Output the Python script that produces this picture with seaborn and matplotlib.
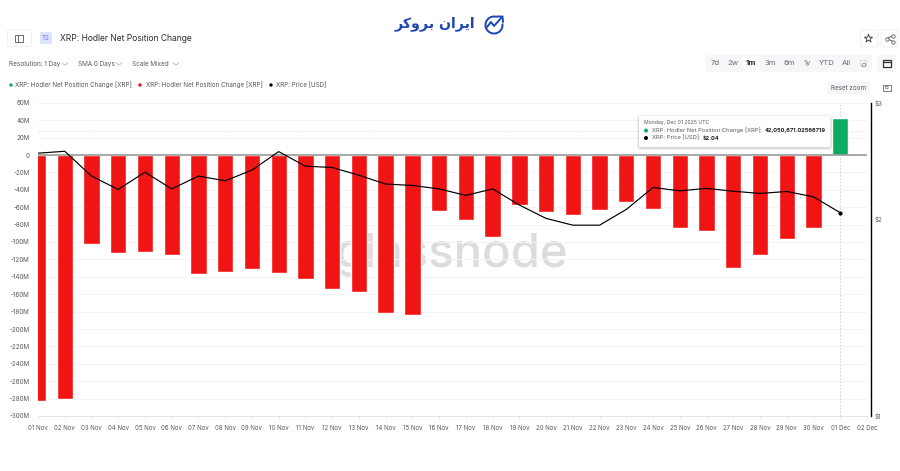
import numpy as np
import pandas as pd
import matplotlib
matplotlib.use('Agg')
import matplotlib.pyplot as plt
import seaborn as sns
from matplotlib.patches import FancyBboxPatch, Circle, Rectangle, Arc

# values, one per day from 01 Nov to 01 Dec
date_labels = [f'{d:02d} Nov' for d in range(1, 31)] + ['01 Dec', '02 Dec']
hodler_change = [-283, -280.5, -102.7, -113, -111, -115.3, -136.4, -134, -131.4, -136,
                 -142.7, -154.4, -157, -181.6, -183.9, -64, -74.3, -94.3, -57.5, -65.9,
                 -69, -63.6, -54, -62, -84.3, -87.4, -129.5, -114.6, -97, -83.9, 42.05]
price_usd = [2.514, 2.531, 2.320, 2.214, 2.352, 2.218, 2.320, 2.282, 2.369, 2.528,
             2.402, 2.391, 2.327, 2.256, 2.245, 2.218, 2.168, 2.218, 2.096, 2.000,
             1.953, 1.953, 2.064, 2.229, 2.203, 2.222, 2.200, 2.183, 2.198, 2.157, 2.04]
y_ticks = list(range(60, -301, -20))
y_labels = ['0' if v == 0 else f'{v}M' for v in y_ticks]
price_ticks = [1, 2, 3]
price_labels = ['$1', '$2', '$3']
range_buttons = ['7d', '2w', '1m', '3m', '6m', '1y', 'YTD', 'All']

GREEN = '#0bab64'
RED = '#f01414'
TEXT = '#555a60'

sns.set_theme(style='white')
plt.rcParams['font.family'] = ['Inter', 'DejaVu Sans']

W, H = 900, 471
fig = plt.figure(figsize=(W / 100, H / 100), dpi=100)

# plot area in pixels
left, right, top, bottom = 38.0, 867.0, 102.8, 416.0
ax = fig.add_axes([left / W, 1 - bottom / H, (right - left) / W, (bottom - top) / H])

df = pd.DataFrame({'day': np.arange(len(hodler_change)), 'change': hodler_change, 'price': price_usd})
df['side'] = np.where(df['change'] > 0, 'up', 'down')

sns.barplot(data=df, x='day', y='change', hue='side', palette={'up': GREEN, 'down': RED},
            native_scale=True, width=0.61, dodge=False, saturation=1, legend=False, ax=ax, zorder=2)
ax.set_xlim(0, 31)
ax.set_ylim(-300, 60)
ax.set_xlabel('')
ax.set_ylabel('')
ax.set_axisbelow(True)
ax.set_yticks(y_ticks)
ax.set_yticklabels(y_labels, fontsize=4.5, color=TEXT)
ax.set_xticks(np.arange(len(date_labels)))
ax.set_xticklabels(date_labels, fontsize=4.4, color=TEXT)
ax.tick_params(axis='y', length=0, pad=6)
ax.tick_params(axis='x', length=2.5, width=0.5, color='#dddddd', pad=4, bottom=True)
ax.grid(axis='y', color='#f3f4f5', lw=0.7)
for name in ['top', 'left', 'right']:
    ax.spines[name].set_visible(False)
ax.spines['bottom'].set_color('#e2e3e5')
ax.spines['bottom'].set_linewidth(0.7)
ax.axhline(0, color='#9a9a9a', lw=1.2, zorder=3)
ax.axhline(27.6, color='#e3e6ea', lw=0.7, ls=(0, (2, 2)), zorder=1)
ax.axvline(30, color='#c9cbce', lw=0.6, ls=(0, (2, 2)), zorder=1)
ax.text(452, H - 255, 'glassnode', transform=None, fontsize=34, color='#dcdcdc', weight='medium',
        ha='center', va='center', zorder=0.5)

ax2 = ax.twinx()
sns.lineplot(data=df, x='day', y='price', color='black', lw=0.85, ax=ax2, zorder=4)
sns.scatterplot(data=df.tail(1), x='day', y='price', color='black', s=9, ax=ax2, zorder=5, linewidth=0)
ax2.set_yscale('log')
ax2.set_ylim(1, 3)
ax2.set_xlim(0, 31)
ax2.set_xlabel('')
ax2.set_ylabel('')
ax2.set_yticks(price_ticks)
ax2.set_yticklabels(price_labels)
ax2.minorticks_off()
ax2.tick_params(axis='y', length=0, pad=3, labelsize=4.5, labelcolor=TEXT)
for name in ['top', 'left', 'bottom']:
    ax2.spines[name].set_visible(False)
ax2.spines['right'].set_position(('outward', 2.8))
ax2.spines['right'].set_color('black')
ax2.spines['right'].set_linewidth(1)

# page furniture on an overlay in pixel coordinates
ui = fig.add_axes([0, 0, 1, 1], zorder=10)
ui.set_xlim(0, W)
ui.set_ylim(H, 0)
ui.axis('off')


def box(x0, y0, x1, y1, face='white', edge='none', lw=0.6, z=1, radius=1.5):
    patch = FancyBboxPatch((x0, y0), x1 - x0, y1 - y0, boxstyle=f'round,pad=0,rounding_size={radius}',
                           fc=face, ec=edge, lw=lw, zorder=z)
    ui.add_patch(patch)


def label(x, y, s, size=4.5, color=TEXT, ha='left', weight='normal', z=3):
    ui.text(x, y, s, fontsize=size, color=color, ha=ha, va='center', weight=weight, zorder=z)


def chevron(x, y):
    ui.plot([x - 3, x, x + 3], [y - 1.2, y + 1.2, y - 1.2], color='#a8abb0', lw=0.5)


# logo: presentation forms in visual order, matplotlib does no shaping
logo = '\ufeae\ufb90\ufeed\ufeae\ufe91 \ufee5\ufe8d\ufeae\ufbfe\ufe8d'
ui.text(434.5, 23.5, logo, fontsize=10.2, color='#1c45b8', family='DejaVu Sans', weight='bold',
        ha='center', va='center')
ui.add_patch(Arc((494, 25), 17, 17, theta1=-10, theta2=290, color='#1c45b8', lw=1.4))
ui.plot([487, 491, 494, 502], [27, 22, 26, 17], color='#1c45b8', lw=1.4)
ui.plot([497, 502.5, 503], [16.5, 16.5, 22], color='#1c45b8', lw=1.4)

# header
box(7.5, 30, 31.5, 46.5, edge='#eeeeee')
ui.add_patch(Rectangle((15, 35), 8, 6.5, fc='none', ec='#555555', lw=0.6))
ui.plot([18, 18], [35, 41.5], color='#555555', lw=0.6)
box(40, 32, 52, 44, face='#dde3fb')
label(46, 38.2, 'T2', size=4.6, color='#6a7fd8', ha='center')
label(60.5, 38.2, 'XRP: Hodler Net Position Change', size=6.1, color='#2a2d31')

# dropdowns
label(9, 64, 'Resolution: 1 Day', size=4.6)
label(78, 64, 'SMA 0 Days', size=4.6)
label(132, 64, 'Scale Mixed', size=4.6)
chevron(65, 64)
chevron(119, 64)
chevron(176, 64)

# legend
for x_dot, x_txt, col, txt in [(11, 15, GREEN, 'XRP: Hodler Net Position Change [XRP]'),
                               (140, 145.5, RED, 'XRP: Hodler Net Position Change [XRP]'),
                               (271, 276, 'black', 'XRP: Price [USD]')]:
    ui.add_patch(Circle((x_dot, 85), 1.7, fc=col, ec='none'))
    label(x_txt, 85, txt)

# range buttons
box(706, 55, 872, 72, face='#f6f7f8')
box(743, 56, 760, 71, face='white')
for x_btn, txt in zip([715, 733, 751, 770, 789, 807, 826.5, 846.5], range_buttons):
    label(x_btn, 63.3, txt, size=5.6, ha='center', color='#222222' if txt == '1m' else '#666a70',
          weight='bold' if txt == '1m' else 'normal')
ui.add_patch(Rectangle((859.5, 60), 6, 6, fc='none', ec='#999999', lw=0.5, ls=':'))
ui.add_patch(Circle((864, 65), 1.8, fc='#f6f7f8', ec='#777777', lw=0.5))
box(877, 55, 896, 72, face='#f6f7f8')
ui.add_patch(Rectangle((883, 60), 8, 6.5, fc='none', ec='#333333', lw=0.9))
ui.plot([883, 891], [62, 62], color='#333333', lw=0.9)

# star and share
box(860.5, 30, 878, 47, edge='#eeeeee')
box(881, 30, 897.5, 47, edge='#eeeeee')
ui.scatter([868.5], [38.5], marker='*', s=38, fc='none', ec='#333333', lw=0.6)
ui.plot([893, 887, 893], [35.5, 38.5, 41.5], color='#444444', lw=0.6)
ui.scatter([893, 887, 893], [35.5, 38.5, 41.5], s=6, fc='white', ec='#444444', lw=0.5, zorder=3)

# reset zoom and camera
box(827, 81, 870, 94, face='#f6f7f8')
label(848.5, 87.5, 'Reset zoom', size=4.5, ha='center')
ui.add_patch(Rectangle((883, 84.5), 7.5, 6, fc='none', ec='#666666', lw=0.6))
ui.add_patch(Circle((886.7, 87.5), 1.4, fc='none', ec='#666666', lw=0.5))

# tooltip
for grow, alpha in [(2.5, 0.03), (1.5, 0.05), (0.7, 0.07)]:
    box(639 - grow, 116 - grow + 1, 830.5 + grow, 147 + grow + 1, face='black', z=1.5, radius=3)
    ui.patches[-1].set_alpha(alpha)
box(639, 116, 830.5, 147, face='white', z=2)
label(643.5, 122.6, 'Monday, Dec 01 2025 UTC', size=3.7)
ui.add_patch(Circle((646, 130.6), 2, fc=GREEN, ec='none', zorder=3))
label(652.5, 130.6, 'XRP: Hodler Net Position Change [XRP]:', size=4.2)
label(764.5, 130.6, '42,050,671.02566719', size=4.05, color='#222222', weight='bold')
ui.add_patch(Circle((646, 138), 2, fc='black', ec='none', zorder=3))
label(652.5, 138, 'XRP: Price [USD]:', size=4.2)
label(702.5, 138, '$2.04', size=4.05, color='#222222', weight='bold')

fig.savefig('out.png', dpi=100)
